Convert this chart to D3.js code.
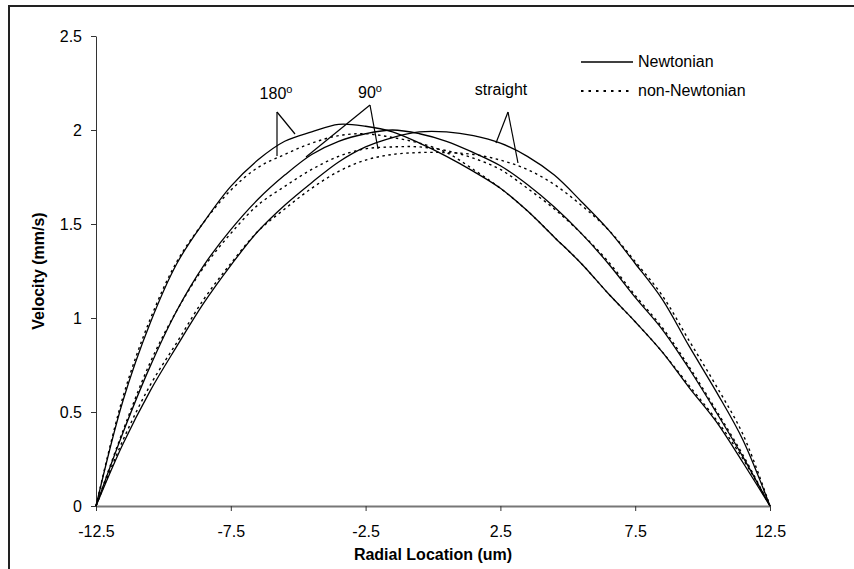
<!DOCTYPE html>
<html>
<head>
<meta charset="utf-8">
<script src="https://cdn.jsdelivr.net/npm/d3@7"></script>
<style>
  body { margin: 0; background: #fff; }
  text { font-family: "Liberation Sans", Arial, sans-serif; fill: #000; }
</style>
</head>
<body>
<div id="chart"></div>
<script>
const width = 854,
  height = 569,
  margin = { top: 36, bottom: 63, left: 96, right: 84 };

// DATA
const radial = [-12.5, -11.5, -10.5, -9.5, -8.5, -7.5, -6.5, -5.5, -4.5, -3.5, -2.5, -1.5, -0.5,
  0.5, 1.5, 2.5, 3.5, 4.5, 5.5, 6.5, 7.5, 8.5, 9.5, 10.5, 11.5, 12.5];

const newt180 = [0, 0.56, 0.97, 1.29, 1.51, 1.70, 1.84, 1.94, 1.99, 2.03, 2.02, 1.99, 1.93,
  1.86, 1.78, 1.69, 1.57, 1.43, 1.29, 1.13, 0.98, 0.82, 0.63, 0.45, 0.23, 0];
const newt90 = [0, 0.39, 0.74, 1.04, 1.28, 1.47, 1.63, 1.76, 1.87, 1.94, 1.98, 2.00, 1.98,
  1.94, 1.88, 1.81, 1.71, 1.59, 1.45, 1.29, 1.11, 0.94, 0.73, 0.50, 0.26, 0];
const newtStraight = [0, 0.33, 0.61, 0.85, 1.08, 1.28, 1.46, 1.60, 1.72, 1.83, 1.91, 1.96, 1.99,
  1.99, 1.97, 1.93, 1.86, 1.76, 1.62, 1.47, 1.29, 1.10, 0.85, 0.61, 0.35, 0];

const nonNewt180 = [0, 0.58, 0.99, 1.30, 1.51, 1.68, 1.80, 1.87, 1.93, 1.97, 1.98, 1.96, 1.93,
  1.88, 1.79, 1.69, 1.57, 1.43, 1.29, 1.13, 0.98, 0.82, 0.64, 0.46, 0.25, 0];
const nonNewt90 = [0, 0.40, 0.76, 1.04, 1.27, 1.45, 1.60, 1.70, 1.79, 1.86, 1.90, 1.91, 1.91,
  1.89, 1.85, 1.79, 1.69, 1.58, 1.45, 1.30, 1.12, 0.95, 0.74, 0.51, 0.27, 0];
const nonNewtStraight = [0, 0.35, 0.64, 0.87, 1.10, 1.29, 1.46, 1.58, 1.69, 1.78, 1.84, 1.87, 1.88,
  1.88, 1.87, 1.84, 1.79, 1.71, 1.60, 1.47, 1.30, 1.12, 0.88, 0.64, 0.38, 0];

const xTicks = [-12.5, -7.5, -2.5, 2.5, 7.5, 12.5];
const yTicks = [0, 0.5, 1, 1.5, 2, 2.5];
const legendLabels = ["Newtonian", "non-Newtonian"];

const svg = d3.select("#chart").append("svg")
  .attr("width", width)
  .attr("height", height);

// outer frame (only top + left visible)
svg.append("path")
  .attr("d", `M9,${height + 5} L9,6 L${width + 5},6`)
  .attr("fill", "none")
  .attr("stroke", "#222")
  .attr("stroke-width", 2);

// SCALES
const x = d3.scaleLinear().domain([-12.5, 12.5]).range([margin.left, width - margin.right]);
const y = d3.scaleLinear().domain([0, 2.5]).range([height - margin.bottom, margin.top]);

// AXES
const xAxis = svg.append("g")
  .attr("transform", `translate(0,${height - margin.bottom})`)
  .call(d3.axisBottom(x).tickValues(xTicks).tickSize(5).tickSizeOuter(0).tickPadding(15)
    .tickFormat(d => String(d)));
xAxis.select(".domain").attr("stroke", "#777").attr("stroke-width", 2);
xAxis.selectAll(".tick line").attr("stroke", "#333");
xAxis.selectAll("text").attr("font-size", 16).attr("font-family", "Liberation Sans, Arial, sans-serif");

const yAxis = svg.append("g")
  .attr("transform", `translate(${margin.left},0)`)
  .call(d3.axisLeft(y).tickValues(yTicks).tickSize(5).tickSizeOuter(0).tickPadding(9)
    .tickFormat(d => String(d)));
yAxis.select(".domain").attr("stroke", "#333");
yAxis.selectAll(".tick line").attr("stroke", "#333");
yAxis.selectAll("text").attr("font-size", 16).attr("font-family", "Liberation Sans, Arial, sans-serif");

// axis titles
svg.append("text")
  .attr("x", (x(-12.5) + x(12.5)) / 2)
  .attr("y", 560)
  .attr("text-anchor", "middle")
  .attr("font-size", 16)
  .attr("font-weight", "bold")
  .text("Radial Location (um)");

svg.append("text")
  .attr("transform", `translate(44,${(y(0) + y(2.5)) / 2}) rotate(-90)`)
  .attr("text-anchor", "middle")
  .attr("font-size", 16)
  .attr("font-weight", "bold")
  .text("Velocity (mm/s)");

// LINES
const line = d3.line()
  .x((d, i) => x(radial[i]))
  .y(d => y(d))
  .curve(d3.curveCatmullRom);

const solidSeries = [newt180, newt90, newtStraight];
const dottedSeries = [nonNewt180, nonNewt90, nonNewtStraight];

svg.append("g").selectAll("path")
  .data(dottedSeries)
  .join("path")
  .attr("d", line)
  .attr("fill", "none")
  .attr("stroke", "#000")
  .attr("stroke-width", 1.4)
  .attr("stroke-dasharray", "2.5,3.5");

svg.append("g").selectAll("path")
  .data(solidSeries)
  .join("path")
  .attr("d", line)
  .attr("fill", "none")
  .attr("stroke", "#000")
  .attr("stroke-width", 1.3);

// CALLOUTS
const callouts = [
  { label: "180", tx: 276, ty: 99, vx: 277, vy: 112, ends: [[277, 156], [295, 134]] },
  { label: "90", tx: 370, ty: 98, vx: 370, vy: 105, ends: [[306, 157], [378, 149]] },
  { label: "straight", tx: 501, ty: 95, vx: 508, vy: 112, ends: [[496, 143], [518, 163]] }
];

callouts.forEach(c => {
  c.ends.forEach(e => {
    svg.append("line")
      .attr("x1", c.vx).attr("y1", c.vy)
      .attr("x2", e[0]).attr("y2", e[1])
      .attr("stroke", "#000")
      .attr("stroke-width", 1.2);
  });
  const t = svg.append("text")
    .attr("x", c.tx)
    .attr("y", c.ty)
    .attr("text-anchor", "middle")
    .attr("font-size", 16);
  t.append("tspan").text(c.label);
  if (c.label !== "straight") {
    t.append("tspan").attr("font-size", 11).attr("dy", -6).text("o");
  }
});

// LEGEND
const legend = svg.append("g");
legend.selectAll("line")
  .data(legendLabels)
  .join("line")
  .attr("x1", 581)
  .attr("x2", 633)
  .attr("y1", (d, i) => 62 + i * 29)
  .attr("y2", (d, i) => 62 + i * 29)
  .attr("stroke", "#000")
  .attr("stroke-width", d => d === "Newtonian" ? 1.3 : 2)
  .attr("stroke-dasharray", d => d === "Newtonian" ? null : "2.5,5");

legend.selectAll("text")
  .data(legendLabels)
  .join("text")
  .attr("x", 638)
  .attr("y", (d, i) => 67 + i * 29)
  .attr("font-size", 16)
  .text(d => d);
</script>
</body>
</html>
